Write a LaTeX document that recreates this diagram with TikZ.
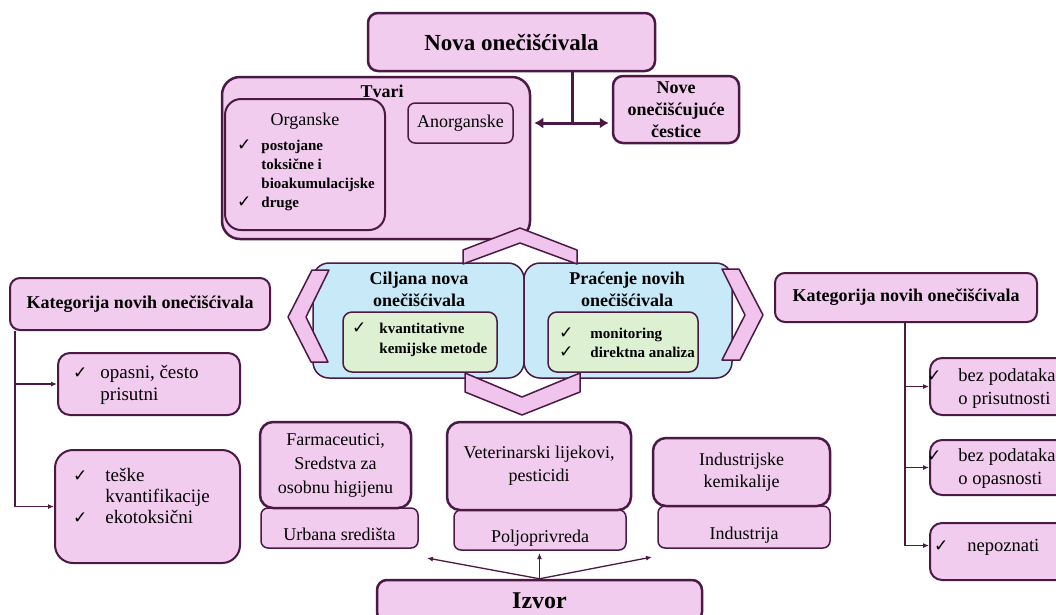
\documentclass[tikz,border=0pt]{standalone}
\usepackage{fontspec}
\setmainfont{Liberation Serif}
\newfontfamily\chkfont{DejaVu Sans}
\usetikzlibrary{arrows.meta}
\definecolor{bord}{RGB}{74,26,68}
\definecolor{pinkf}{RGB}{241,204,238}
\definecolor{chevf}{RGB}{240,196,236}
\definecolor{bluef}{RGB}{200,234,248}
\definecolor{greenf}{RGB}{221,240,210}
\newcommand\ck{{\chkfont\fontsize{17}{17}\selectfont ✓}}
\newcommand\fs[2]{\fontsize{#1}{#2}\selectfont}
\newcommand\bx[7]{\node[#6, minimum width={(#4)-(#2)}, minimum height={(#5)-(#3)}] (#1) at ({((#2)+(#4))/2},{((#3)+(#5))/2}) {#7};}
\begin{document}
\begin{tikzpicture}[x=1pt,y=-1pt,
  pbox/.style={draw=bord, fill=pinkf, line width=2pt, rounded corners=10pt, inner sep=0pt, align=center},
  bbox/.style={draw=bord, fill=bluef, line width=1.5pt, rounded corners=16pt, inner sep=0pt},
  gbox/.style={draw=bord, fill=greenf, line width=1.5pt, rounded corners=9pt, inner sep=0pt},
  chev/.style={draw=bord, fill=chevf, line width=1.5pt, line join=round},
  txt/.style={inner sep=0pt, align=center},
  lst/.style={inner sep=0pt, anchor=west},
  low/.style={text height=24pt, text depth=0pt},
  conn/.style={draw=bord, line width=1.5pt},
  tip/.style={-{Latex[length=6pt,width=5pt]}}]
\useasboundingbox (0,0) rectangle (1056,614);
\clip (0,0) rectangle (1056,614);
\fill[white] (0,0) rectangle (1056,614);

% ---------- top part ----------
\bx{tvari}{222}{77}{530}{239}{pbox, line width=2.5pt, rounded corners=18pt}{}
\node[txt, font=\fs{18}{22}\bfseries] (tvarit) at (382,91) {Tvari};
\bx{org}{225}{99}{385}{230}{pbox, rounded corners=16pt}{}
\node[txt, font=\fs{18}{22}] (orgt) at (305,121) {Organske};
\node[lst, font=\fs{15}{19}\bfseries] (orgl) at (237,175)
  {\begin{tabular}{@{}l@{\hspace{10pt}}l@{}}\ck & postojane\\ & toksične i\\ & bioakumulacijske\\ \ck & druge\end{tabular}};
\bx{anorg}{408}{103}{513}{143}{pbox, line width=1.5pt, rounded corners=7pt, font=\fs{18}{22}}{Anorganske}

\bx{title}{368}{13}{655}{71}{pbox, line width=2.5pt, font=\fs{23}{27}\bfseries}{Nova onečišćivala}
\bx{nove}{613}{76}{739}{143}{pbox, line width=2.5pt, font=\fs{18}{22}\bfseries}{Nove\\onečišćujuće\\čestice}

\coordinate (jn) at (572,123);
\draw[conn, line width=3pt] (jn |- title.south) -- (jn);
\draw[draw=bord, line width=3pt, {Latex[length=9pt,width=11pt]}-{Latex[length=9pt,width=11pt]}, shorten <=3pt, shorten >=3pt] (tvari.east |- jn) -- (nove.west |- jn);

% ---------- centre ----------
\bx{cilj}{313}{263}{524}{378}{bbox}{}
\bx{prac}{524}{263}{732}{378}{bbox}{}
\node[txt, font=\fs{18}{22}\bfseries] (ciljt) at (419,289) {Ciljana nova\\onečišćivala};
\node[txt, font=\fs{18}{22}\bfseries] (pract) at (627,289) {Praćenje novih\\onečišćivala};
\bx{gl}{343}{312}{497}{372}{gbox}{}
\bx{gr}{548}{312}{698}{372}{gbox}{}
\node[lst, font=\fs{15}{20}\bfseries] (gll) at (352,339)
  {\begin{tabular}{@{}l@{\hspace{13pt}}l@{}}\ck & kvantitativne\\ & kemijske metode\end{tabular}};
\node[lst, font=\fs{15}{19}\bfseries] (grl) at (559,344)
  {\begin{tabular}{@{}l@{\hspace{17pt}}l@{}}\ck & monitoring\\ \ck & direktna analiza\end{tabular}};

% chevrons
\filldraw[chev] (463,264) -- (463,250) -- (520,228) -- (577,250) -- (577,264) -- (520,243) -- cycle;
\filldraw[chev] (329,270) -- (312,270) -- (288,317) -- (311,362) -- (328,362) -- (306,317) -- cycle;
\filldraw[chev] (722,269) -- (739,269) -- (763,315) -- (740,360) -- (722,360) -- (745,315) -- cycle;
\filldraw[chev] (465,373) -- (465,392) -- (522,415) -- (580,392) -- (580,373) -- (522,397) -- cycle;

% ---------- left categories ----------
\bx{lk}{10}{278}{270}{330}{pbox, font=\fs{18}{22}\bfseries}{Kategorija novih onečišćivala}
\bx{op}{58}{353}{240}{415}{pbox, rounded corners=12pt}{}
\node[lst, font=\fs{19}{22}] (opl) at (73,385)
  {\begin{tabular}{@{}l@{\hspace{13pt}}l@{}}\ck & opasni, često\\ & prisutni\end{tabular}};
\bx{tes}{55}{450}{240}{563}{pbox, rounded corners=18pt}{}
\node[lst, font=\fs{19}{21}] (tesl) at (73,498)
  {\begin{tabular}{@{}l@{\hspace{18pt}}l@{}}\ck & teške\\ & kvantifikacije\\ \ck & ekotoksični\end{tabular}};
\draw[conn, tip] (lk.south -| 15,0) |- (tes.west);
\draw[conn, tip] (op.west -| 15,0) -- (op.west);

% ---------- right categories ----------
\bx{rk}{775}{273}{1037}{322}{pbox, font=\fs{18}{22}\bfseries}{Kategorija novih onečišćivala}
\bx{ra}{930}{358}{1080}{415}{pbox, rounded corners=12pt}{}
\bx{rb}{930}{440}{1080}{495}{pbox, rounded corners=12pt}{}
\bx{rc}{930}{523}{1080}{580}{pbox, rounded corners=12pt}{}
\node[lst, font=\fs{18.5}{23}] (ral) at (927,388)
  {\begin{tabular}{@{}l@{\hspace{17pt}}l@{}}\ck & bez podataka\\ & o prisutnosti\end{tabular}};
\node[lst, font=\fs{18.5}{23}] (rbl) at (927,468)
  {\begin{tabular}{@{}l@{\hspace{17pt}}l@{}}\ck & bez podataka\\ & o opasnosti\end{tabular}};
\node[lst, font=\fs{18.5}{23}] (rcl) at (934,547)
  {\begin{tabular}{@{}l@{\hspace{19pt}}l@{}}\ck & nepoznati\end{tabular}};
\coordinate (rv) at (905,0);
\draw[conn, tip] (rk.south -| rv) |- ([yshift=6pt]rc.west);
\draw[conn, tip] (ra.west -| rv) -- (ra.west);
\draw[conn, tip] (rb.west -| rv) -- (rb.west);

% ---------- bottom sources ----------
\bx{urb}{261}{508}{418}{548}{pbox, low, line width=1.5pt, rounded corners=7pt, font=\fs{18}{22}}{Urbana središta}
\bx{farm}{260}{422}{411}{508}{pbox, line width=2.5pt, rounded corners=13pt, font=\fs{18}{24}}{Farmaceutici,\\Sredstva za\\osobnu higijenu}
\bx{polj}{454}{510}{626}{550}{pbox, low, line width=1.5pt, rounded corners=7pt, font=\fs{18}{22}}{Poljoprivreda}
\bx{vet}{447}{422}{631}{510}{pbox, line width=2.5pt, rounded corners=13pt, font=\fs{18}{23}}{Veterinarski lijekovi,\\pesticidi}
\bx{ind}{658}{506}{830}{548}{pbox, low, line width=1.5pt, rounded corners=7pt, font=\fs{18}{22}}{Industrija}
\bx{indk}{653}{438}{830}{506}{pbox, line width=2.5pt, rounded corners=13pt, font=\fs{18}{22}}{Industrijske\\kemikalije}
\bx{izv}{377}{580}{702}{622}{pbox, line width=2.5pt, font=\fs{24}{28}\bfseries}{Izvor}

\coordinate (ia) at (427,558);
\coordinate (ib) at (539.5,553);
\coordinate (ic) at (652,557);
\draw[conn, line width=1.3pt, tip] (izv.north) -- (ia);
\draw[conn, line width=1.3pt, tip] (izv.north) -- (ib);
\draw[conn, line width=1.3pt, tip] (izv.north) -- (ic);
\end{tikzpicture}
\end{document}
